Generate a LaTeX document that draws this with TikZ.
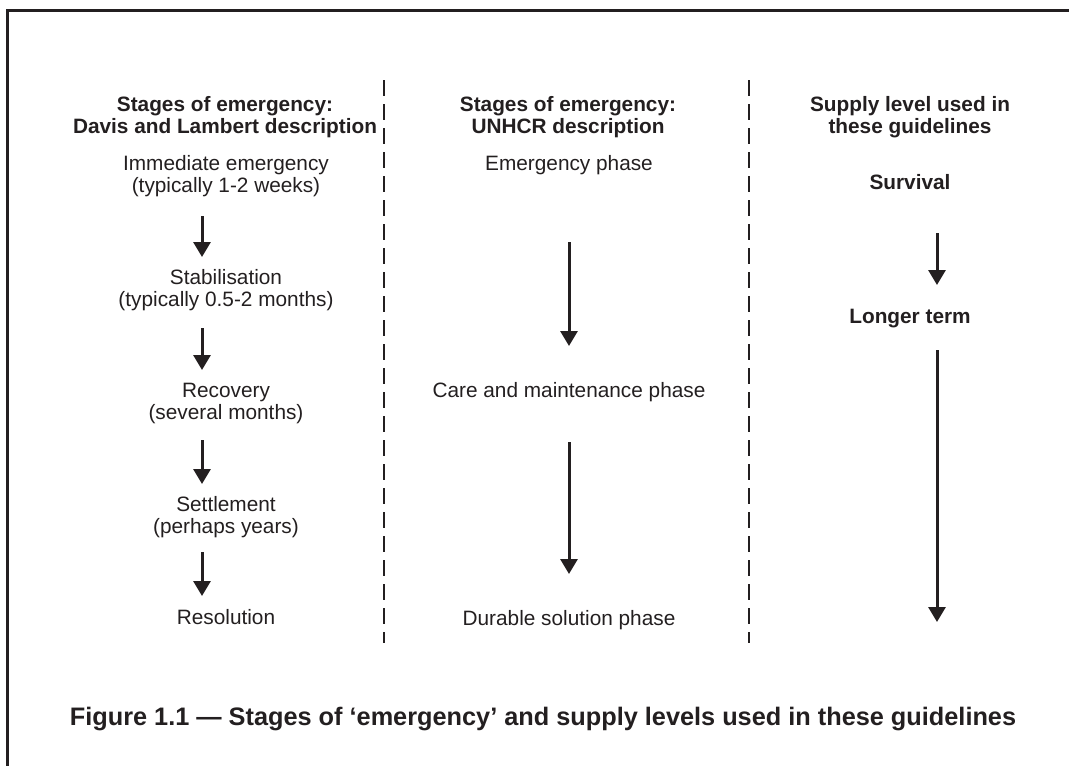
\documentclass[tikz,border=0pt]{standalone}
\usepackage{fontspec}
\setmainfont{Liberation Sans}
\usetikzlibrary{arrows.meta,calc}
\definecolor{ink}{HTML}{231F20}
\tikzset{
  txt/.style={inner sep=0pt, anchor=base, text=ink, font=\fontsize{20.8}{24}\selectfont},
  hd/.style={txt, font=\fontsize{20.8}{24}\selectfont\bfseries},
  figcap/.style={txt, font=\fontsize{25.3}{30}\selectfont\bfseries},
  arr/.style={draw=ink, line width=3pt, -{Triangle[width=17pt,length=15pt]}},
  sep/.style={draw=ink, line width=1.6pt, dash pattern=on 16pt off 8pt},
  frame/.style={draw=ink, line width=3pt}
}
\begin{document}
\begin{tikzpicture}[x=1pt,y=-1pt]
\useasboundingbox (0,0) rectangle (1069,766);
\draw[frame] (7,767) -- (7,10) -- (1070,10);
% separators
\coordinate (s1t) at (384,80); \coordinate (s1b) at (384,643);
\coordinate (s2t) at (749,80); \coordinate (s2b) at (749,643);
\draw[sep] (s1t) -- (s1b);
\draw[sep] (s2t) -- (s2b);
% column 1
\node[hd] (h1a) at (225,111) {Stages of emergency:};
\node[hd] (h1b) at (225,133) {Davis and Lambert description};
\node[txt] (c1a) at (226,170) {Immediate emergency};
\node[txt] (c1b) at (226,192) {(typically 1-2 weeks)};
\node[txt] (c2a) at (226,284) {Stabilisation};
\node[txt] (c2b) at (226,306) {(typically 0.5-2 months)};
\node[txt] (c3a) at (226,397) {Recovery};
\node[txt] (c3b) at (226,419) {(several months)};
\node[txt] (c4a) at (226,511) {Settlement};
\node[txt] (c4b) at (226,533) {(perhaps years)};
\node[txt] (c5) at (226,624) {Resolution};
\draw[arr] ($(c1b.base)+(-24,24)$) -- ($(c2a.base)+(-24,-27)$);
\draw[arr] ($(c2b.base)+(-24,22)$) -- ($(c3a.base)+(-24,-27)$);
\draw[arr] ($(c3b.base)+(-24,21)$) -- ($(c4a.base)+(-24,-27)$);
\draw[arr] ($(c4b.base)+(-24,19)$) -- ($(c5.base)+(-24,-28)$);
% column 2
\node[hd] (h2a) at (568,111) {Stages of emergency:};
\node[hd] (h2b) at (568,133) {UNHCR description};
\node[txt] (u1) at (569,170) {Emergency phase};
\node[txt] (u2) at (569,397) {Care and maintenance phase};
\node[txt] (u3) at (569,625) {Durable solution phase};
\draw[arr] ($(u1.base)+(0,72)$) -- ($(u2.base)+(0,-51)$);
\draw[arr] ($(u2.base)+(0,45)$) -- ($(u3.base)+(0,-51)$);
% column 3
\node[hd] (h3a) at (910,111) {Supply level used in};
\node[hd] (h3b) at (910,133) {these guidelines};
\node[hd] (l1) at (910,189) {Survival};
\node[hd] (l2) at (910,323) {Longer term};
\coordinate (lend) at (937,622);
\draw[arr] ($(l1.base)+(27,44)$) -- ($(l2.base)+(27,-38)$);
\draw[arr] ($(l2.base)+(27,27)$) -- (lend);
% caption
\node[figcap] (fig) at (543,725) {Figure 1.1 — Stages of ‘emergency’ and supply levels used in these guidelines};
\end{tikzpicture}
\end{document}
